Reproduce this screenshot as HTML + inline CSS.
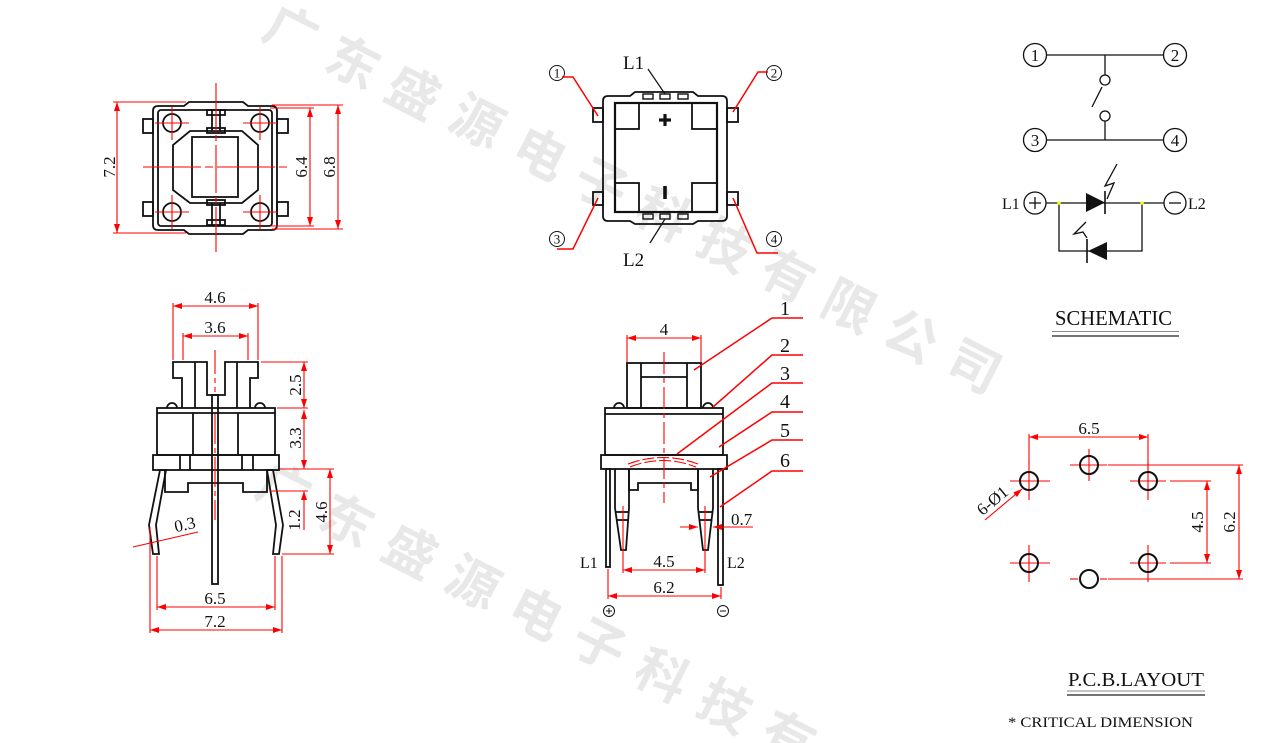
<!DOCTYPE html>
<html><head><meta charset="utf-8"><style>
html,body{margin:0;padding:0;background:#fff;}
svg{display:block;}
text{font-family:"Liberation Serif","Noto Serif CJK SC",serif;fill:#111;}
.wm text{font-family:"Noto Sans CJK SC","WenQuanYi Zen Hei",sans-serif;font-weight:bold;fill:#e8e8e8;font-size:52px;}
</style></head><body>
<svg width="1267" height="743" viewBox="0 0 1267 743" xmlns="http://www.w3.org/2000/svg">
<defs>
<marker id="a" markerWidth="9" markerHeight="6" refX="9" refY="3" orient="auto-start-reverse" markerUnits="userSpaceOnUse"><path d="M0,0 L9,3 L0,6 z" fill="#f00"/></marker>
</defs>

<!-- watermark -->
<g class="wm" text-anchor="middle" dominant-baseline="central">
<text transform="translate(293,28) rotate(27)">广</text>
<text transform="translate(355,59) rotate(27)">东</text>
<text transform="translate(415,89) rotate(27)">盛</text>
<text transform="translate(479,118) rotate(27)">源</text>
<text transform="translate(542,150) rotate(27)">电</text>
<text transform="translate(603,181) rotate(27)">子</text>
<text transform="translate(665,211) rotate(27)">科</text>
<text transform="translate(727,242) rotate(27)">技</text>
<text transform="translate(789,272) rotate(27)">有</text>
<text transform="translate(851,303) rotate(27)">限</text>
<text transform="translate(913,333) rotate(27)">公</text>
<text transform="translate(976,363) rotate(27)">司</text>
<text transform="translate(286,486) rotate(27)">广</text>
<text transform="translate(349,517) rotate(27)">东</text>
<text transform="translate(412,548) rotate(27)">盛</text>
<text transform="translate(475,579) rotate(27)">源</text>
<text transform="translate(538,610) rotate(27)">电</text>
<text transform="translate(601,641) rotate(27)">子</text>
<text transform="translate(664,672) rotate(27)">科</text>
<text transform="translate(727,703) rotate(27)">技</text>
<text transform="translate(790,734) rotate(27)">有</text>
</g>

<!-- ============ TOP-LEFT VIEW ============ -->
<g fill="none" stroke="#111" stroke-width="1.8">
<path d="M158,106 H184 L189,102 H243 L248,106 H272 Q277,106 277,111 V225 Q277,230 272,230 H248 L243,234 H189 L184,230 H158 Q153,230 153,225 V111 Q153,106 158,106 Z"/>
<rect x="158" y="110" width="114" height="116" rx="3"/>
<rect x="143" y="119" width="10" height="14"/>
<rect x="143" y="202" width="10" height="14"/>
<rect x="277" y="119" width="11" height="14"/>
<rect x="277" y="202" width="11" height="14"/>
<circle cx="172" cy="123" r="9"/>
<circle cx="260" cy="123" r="9"/>
<circle cx="172" cy="212" r="9"/>
<circle cx="260" cy="212" r="9"/>
<path d="M190,131 H242 L258,145 V190 L242,203 H190 L173,190 V145 Z"/>
<rect x="192" y="137" width="46" height="60"/>
<line x1="212" y1="110" x2="212" y2="131"/>
<line x1="220" y1="110" x2="220" y2="131"/>
<line x1="212" y1="203" x2="212" y2="226"/>
<line x1="220" y1="203" x2="220" y2="226"/>
<rect x="207" y="110" width="18" height="5"/>
<rect x="207" y="128" width="18" height="5"/>
<rect x="207" y="200" width="18" height="5"/>
<rect x="207" y="220" width="18" height="5"/>
</g>
<g stroke="#f00" stroke-width="1.1" fill="none">
<line x1="216" y1="83" x2="216" y2="252" stroke-dasharray="48,4,6,4"/>
<line x1="143" y1="167" x2="291" y2="167" stroke-dasharray="58,4,8,4"/>
<line x1="155" y1="123" x2="189" y2="123"/><line x1="172" y1="107" x2="172" y2="140"/>
<line x1="243" y1="123" x2="277" y2="123"/><line x1="260" y1="107" x2="260" y2="140"/>
<line x1="155" y1="212" x2="189" y2="212"/><line x1="172" y1="195" x2="172" y2="229"/>
<line x1="243" y1="212" x2="277" y2="212"/><line x1="260" y1="195" x2="260" y2="229"/>
<line x1="113" y1="102" x2="186" y2="102"/>
<line x1="113" y1="233" x2="186" y2="233"/>
<line x1="117" y1="102" x2="117" y2="233" marker-start="url(#a)" marker-end="url(#a)"/>
<line x1="270" y1="108" x2="314" y2="108"/>
<line x1="270" y1="226" x2="314" y2="226"/>
<line x1="310" y1="108" x2="310" y2="226" marker-start="url(#a)" marker-end="url(#a)"/>
<line x1="272" y1="105" x2="343" y2="105"/>
<line x1="272" y1="229" x2="343" y2="229"/>
<line x1="338" y1="105" x2="338" y2="229" marker-start="url(#a)" marker-end="url(#a)"/>
</g>
<g font-size="17" text-anchor="middle">
<text transform="translate(115,167) rotate(-90)">7.2</text>
<text transform="translate(307,167) rotate(-90)">6.4</text>
<text transform="translate(335,167) rotate(-90)">6.8</text>
</g>

<!-- ============ TOP-CENTER VIEW ============ -->
<g fill="none" stroke="#111" stroke-width="1.8">
<path d="M608,96 H630 L635,92 H693 L698,96 H722 Q727,96 727,101 V216 Q727,221 722,221 H698 L693,224 H635 L630,221 H608 Q603,221 603,216 V101 Q603,96 608,96 Z"/>
<rect x="615" y="103" width="102" height="109" stroke-width="2.2"/>
<rect x="615" y="103" width="24" height="26"/>
<rect x="692" y="103" width="25" height="26"/>
<rect x="615" y="183" width="24" height="29"/>
<rect x="692" y="183" width="25" height="29"/>
<rect x="593" y="108" width="10" height="14"/>
<rect x="593" y="192" width="10" height="13"/>
<rect x="727" y="108" width="11" height="14"/>
<rect x="727" y="192" width="11" height="13"/>
<g stroke-width="1.4">
<rect x="643" y="94" width="10" height="5"/><rect x="660" y="94" width="10" height="5"/><rect x="678" y="94" width="10" height="5"/>
<rect x="643" y="214" width="10" height="5"/><rect x="660" y="214" width="10" height="5"/><rect x="678" y="214" width="10" height="5"/>
</g>
<line x1="659" y1="120" x2="671" y2="120" stroke-width="3.2"/>
<line x1="665" y1="114" x2="665" y2="126" stroke-width="3.2"/>
<line x1="665" y1="186" x2="665" y2="199" stroke-width="3.6"/>
<line x1="648" y1="69" x2="665" y2="94" stroke-width="1.2"/>
<line x1="665" y1="219" x2="650" y2="243" stroke-width="1.2"/>
<g stroke-width="1">
<circle cx="557" cy="73" r="7.5"/><circle cx="774" cy="73" r="7.5"/>
<circle cx="557" cy="239" r="7.5"/><circle cx="774" cy="239" r="7.5"/>
</g>
</g>
<g font-size="13" text-anchor="middle">
<text x="557" y="77.5">1</text><text x="774" y="77.5">2</text>
<text x="557" y="243.5">3</text><text x="774" y="243.5">4</text>
</g>
<g font-size="19"><text x="623" y="69">L1</text><text x="623" y="266">L2</text></g>
<g stroke="#f00" stroke-width="1.5" fill="none">
<polyline points="562,77 573,77 598,116"/>
<polyline points="768,72 758,72 733,112"/>
<polyline points="557,249 573,249 598,198"/>
<polyline points="778,253 757,253 733,198"/>
</g>

<!-- ============ SCHEMATIC ============ -->
<g fill="none" stroke="#111" stroke-width="1.3">
<circle cx="1035" cy="55" r="11.5"/><circle cx="1175" cy="55" r="11.5"/>
<circle cx="1035" cy="140" r="11.5"/><circle cx="1175" cy="140" r="11.5"/>
<line x1="1046.5" y1="55" x2="1163.5" y2="55"/>
<line x1="1105" y1="55" x2="1105" y2="75"/>
<circle cx="1105" cy="80" r="5"/>
<line x1="1102" y1="87" x2="1092" y2="107"/>
<circle cx="1105" cy="116" r="5"/>
<line x1="1105" y1="121" x2="1105" y2="140"/>
<line x1="1046.5" y1="140" x2="1163.5" y2="140"/>
<circle cx="1035" cy="203" r="11"/><circle cx="1175" cy="203" r="11"/>
<line x1="1029" y1="203" x2="1041" y2="203"/><line x1="1035" y1="197" x2="1035" y2="209"/>
<line x1="1169" y1="203" x2="1181" y2="203"/>
<line x1="1046" y1="203" x2="1164" y2="203"/>
<polyline points="1059,203 1059,251 1142,251 1142,203"/>
<line x1="1105" y1="191" x2="1105" y2="214" stroke-width="1.6"/>
<line x1="1087" y1="239" x2="1087" y2="263" stroke-width="1.6"/>
<polyline points="1117,164 1105,186 1114,183 1107,199"/>
<polyline points="1086,222 1074,234 1083,232 1087,238"/>
</g>
<polygon points="1086,193 1086,212 1105,202.5" fill="#111"/>
<polygon points="1088,251 1107,242 1107,260" fill="#111"/>
<circle cx="1059" cy="203" r="1.8" fill="#ff0"/>
<circle cx="1142" cy="203" r="1.8" fill="#ff0"/>
<g font-size="17" text-anchor="middle">
<text x="1035" y="61">1</text><text x="1175" y="61">2</text>
<text x="1035" y="146">3</text><text x="1175" y="146">4</text>
</g>
<g font-size="16"><text x="1002" y="209">L1</text><text x="1188" y="209">L2</text></g>
<text x="1055" y="325" font-size="21" textLength="117" lengthAdjust="spacingAndGlyphs">SCHEMATIC</text>
<line x1="1052" y1="331.5" x2="1179" y2="331.5" stroke="#888" stroke-width="1"/>
<line x1="1052" y1="336" x2="1179" y2="336" stroke="#222" stroke-width="1.2"/>

<!-- ============ BOTTOM-LEFT VIEW ============ -->
<g fill="none" stroke="#111" stroke-width="1.8">
<path d="M182,408 V378 H173 V362 H207 V395 H225 V362 H258 V378 H250 V408"/>
<line x1="195" y1="362" x2="195" y2="408"/>
<line x1="237" y1="362" x2="237" y2="408"/>
<rect x="157" y="408" width="118" height="47"/>
<line x1="157" y1="413" x2="275" y2="413"/>
<path d="M167,408 A5,5 0 0 1 177,408"/>
<path d="M255,408 A5,5 0 0 1 265,408"/>
<line x1="193" y1="413" x2="193" y2="455"/>
<line x1="238" y1="413" x2="238" y2="455"/>
<rect x="212" y="395" width="6" height="189"/>
<rect x="153" y="455" width="126" height="15"/>
<line x1="180" y1="455" x2="180" y2="470"/><line x1="190" y1="455" x2="190" y2="470"/>
<line x1="242" y1="455" x2="242" y2="470"/><line x1="253" y1="455" x2="253" y2="470"/>
<path d="M165,470 V492 H188 V483 H243 V492 H267 V470"/>
<path d="M160,470 L149,525 L153,554 H159 L156,525 L166,470 Z"/>
<path d="M267,470 L276,525 L273,554 H279 L283,525 L273,470 Z"/>
</g>
<g stroke="#f00" stroke-width="1.1" fill="none">
<line x1="215" y1="350" x2="215" y2="392" stroke-dasharray="24,4,5,4"/>
<line x1="215" y1="414" x2="215" y2="520" stroke-dasharray="30,4,5,4"/>
<line x1="173" y1="303" x2="173" y2="360"/><line x1="258" y1="303" x2="258" y2="360"/>
<line x1="173" y1="306" x2="258" y2="306" marker-start="url(#a)" marker-end="url(#a)"/>
<line x1="183" y1="333" x2="183" y2="360"/><line x1="248" y1="333" x2="248" y2="360"/>
<line x1="183" y1="336" x2="248" y2="336" marker-start="url(#a)" marker-end="url(#a)"/>
<line x1="261" y1="362" x2="308" y2="362"/>
<line x1="277" y1="408" x2="308" y2="408"/>
<line x1="304" y1="362" x2="304" y2="408" marker-start="url(#a)" marker-end="url(#a)"/>
<line x1="304" y1="410" x2="304" y2="469" marker-start="url(#a)" marker-end="url(#a)"/>
<line x1="280" y1="469" x2="334" y2="469"/>
<line x1="282" y1="554" x2="334" y2="554"/>
<line x1="330" y1="469" x2="330" y2="554" marker-start="url(#a)" marker-end="url(#a)"/>
<line x1="270" y1="491" x2="308" y2="491"/>
<line x1="304" y1="530" x2="304" y2="491" marker-end="url(#a)"/>
<line x1="133" y1="547" x2="198" y2="532"/>
<line x1="157" y1="556" x2="157" y2="610"/><line x1="275" y1="556" x2="275" y2="610"/>
<line x1="157" y1="607" x2="275" y2="607" marker-start="url(#a)" marker-end="url(#a)"/>
<line x1="150" y1="527" x2="150" y2="633"/><line x1="282" y1="556" x2="282" y2="633"/>
<line x1="150" y1="630" x2="282" y2="630" marker-start="url(#a)" marker-end="url(#a)"/>
</g>
<g font-size="17" text-anchor="middle">
<text x="215" y="303">4.6</text>
<text x="215" y="333">3.6</text>
<text transform="translate(301,385) rotate(-90)">2.5</text>
<text transform="translate(301,438) rotate(-90)">3.3</text>
<text transform="translate(327,512) rotate(-90)">4.6</text>
<text transform="translate(300,520) rotate(-90)">1.2</text>
<text transform="translate(186,530) rotate(-12)">0.3</text>
<text x="215" y="604">6.5</text>
<text x="215" y="627">7.2</text>
</g>

<!-- ============ BOTTOM-CENTER VIEW ============ -->
<g fill="none" stroke="#111" stroke-width="1.8">
<rect x="627" y="363" width="74" height="45"/>
<line x1="641" y1="363" x2="641" y2="408"/>
<line x1="687" y1="363" x2="687" y2="408"/>
<line x1="641" y1="377" x2="687" y2="377"/>
<path d="M614,408 A5,5 0 0 1 624,408"/>
<path d="M703,408 A5,5 0 0 1 713,408"/>
<rect x="605" y="408" width="118" height="47"/>
<line x1="605" y1="414" x2="723" y2="414"/>
<rect x="601" y="455" width="126" height="14"/>
<path d="M629,469 V490 H638 V483 H691 V490 H698 V469"/>
<path d="M615,469 V508 L621,550 H626 L629,508 V469"/>
<path d="M698,469 V508 L703,550 H708 L713,508 V469"/>
<line x1="616" y1="512" x2="629" y2="512"/><line x1="617" y1="520" x2="629" y2="520"/>
<line x1="699" y1="512" x2="713" y2="512"/><line x1="700" y1="520" x2="712" y2="520"/>
<rect x="606" y="469" width="4" height="98"/>
<rect x="718" y="469" width="5" height="116"/>
<g stroke-width="1">
<circle cx="609" cy="611" r="5.5"/><line x1="606" y1="611" x2="612" y2="611"/><line x1="609" y1="608" x2="609" y2="614"/>
<circle cx="723" cy="611" r="5.5"/><line x1="720" y1="611" x2="726" y2="611"/>
</g>
</g>
<g stroke="#f00" stroke-width="1.1" fill="none">
<line x1="664" y1="352" x2="664" y2="503" stroke-dasharray="22,4,5,4"/>
<path d="M628,464 Q663,451 698,464" stroke-dasharray="12,3"/>
<path d="M630,467 Q663,454 696,467" stroke-dasharray="12,3"/>
<line x1="627" y1="335" x2="627" y2="362"/><line x1="701" y1="335" x2="701" y2="362"/>
<line x1="627" y1="338" x2="701" y2="338" marker-start="url(#a)" marker-end="url(#a)"/>
<line x1="623" y1="506" x2="623" y2="573"/><line x1="705" y1="506" x2="705" y2="573"/>
<line x1="623" y1="570" x2="705" y2="570" marker-start="url(#a)" marker-end="url(#a)"/>
<line x1="608" y1="569" x2="608" y2="599"/><line x1="721" y1="587" x2="721" y2="599"/>
<line x1="608" y1="596" x2="721" y2="596" marker-start="url(#a)" marker-end="url(#a)"/>
<line x1="680" y1="527" x2="698" y2="527" marker-end="url(#a)"/>
<line x1="753" y1="527" x2="713" y2="527" marker-end="url(#a)"/>
</g>
<g stroke="#f00" stroke-width="1.5" fill="none">
<polyline points="694,370 772,318 803,318"/>
<polyline points="713,407 772,355 803,355"/>
<polyline points="677,454 772,383 803,383"/>
<polyline points="719,447 772,412 803,412"/>
<polyline points="710,477 772,440 803,440"/>
<polyline points="720,507 772,471 803,471"/>
</g>
<g font-size="20" text-anchor="middle">
<text x="785" y="315">1</text><text x="785" y="352">2</text>
<text x="785" y="380">3</text><text x="785" y="408">4</text>
<text x="785" y="437">5</text><text x="785" y="467">6</text>
</g>
<g font-size="17" text-anchor="middle">
<text x="664" y="335">4</text>
<text x="664" y="567">4.5</text>
<text x="664" y="593">6.2</text>
</g>
<text x="731" y="525" font-size="17">0.7</text>
<g font-size="16"><text x="580" y="568">L1</text><text x="727" y="568">L2</text></g>

<!-- ============ PCB LAYOUT ============ -->
<g stroke="#f00" stroke-width="1.1" fill="none">
<line x1="1010" y1="481" x2="1050" y2="481"/><line x1="1029" y1="461" x2="1029" y2="500"/>
<line x1="1070" y1="465" x2="1107" y2="465"/><line x1="1089" y1="449" x2="1089" y2="481"/>
<line x1="1130" y1="481" x2="1166" y2="481"/><line x1="1148" y1="462" x2="1148" y2="500"/>
<line x1="1010" y1="563" x2="1050" y2="563"/><line x1="1029" y1="545" x2="1029" y2="582"/>
<line x1="1130" y1="563" x2="1166" y2="563"/><line x1="1148" y1="545" x2="1148" y2="582"/>
<line x1="1070" y1="579" x2="1078" y2="579"/><line x1="1100" y1="579" x2="1107" y2="579"/>
<line x1="1029" y1="434" x2="1029" y2="463"/><line x1="1148" y1="434" x2="1148" y2="470"/>
<line x1="1029" y1="437" x2="1148" y2="437" marker-start="url(#a)" marker-end="url(#a)"/>
<line x1="1170" y1="481" x2="1211" y2="481"/><line x1="1170" y1="563" x2="1211" y2="563"/>
<line x1="1207" y1="481" x2="1207" y2="563" marker-start="url(#a)" marker-end="url(#a)"/>
<line x1="1108" y1="465" x2="1243" y2="465"/><line x1="1108" y1="579" x2="1243" y2="579"/>
<line x1="1239" y1="465" x2="1239" y2="579" marker-start="url(#a)" marker-end="url(#a)"/>
<line x1="985" y1="520" x2="1022" y2="489" marker-end="url(#a)"/>
</g>
<g fill="none" stroke="#111" stroke-width="2">
<circle cx="1029" cy="481" r="9"/><circle cx="1089" cy="465" r="9"/><circle cx="1148" cy="481" r="9"/>
<circle cx="1029" cy="563" r="9"/><circle cx="1148" cy="563" r="9"/><circle cx="1089" cy="579" r="9"/>
</g>
<g font-size="17" text-anchor="middle">
<text x="1089" y="434">6.5</text>
<text transform="translate(1203,522) rotate(-90)">4.5</text>
<text transform="translate(1235,522) rotate(-90)">6.2</text>
<text transform="translate(996,505) rotate(-40)">6-Ø1</text>
</g>
<text x="1068" y="686" font-size="20" textLength="136" lengthAdjust="spacingAndGlyphs">P.C.B.LAYOUT</text>
<line x1="1067" y1="691" x2="1205" y2="691" stroke="#888" stroke-width="1"/>
<line x1="1067" y1="695" x2="1205" y2="695" stroke="#222" stroke-width="1.2"/>
<text x="1008" y="727" font-size="15" textLength="185" lengthAdjust="spacingAndGlyphs">* CRITICAL  DIMENSION</text>
</svg>
</body></html>
